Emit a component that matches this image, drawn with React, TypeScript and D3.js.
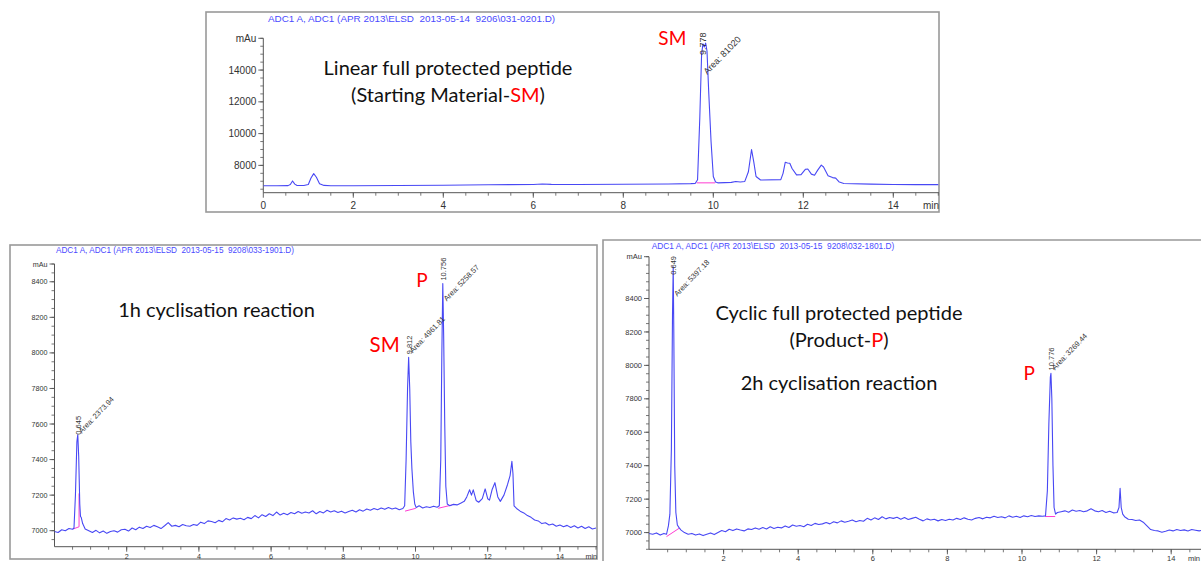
import React from "react";
import * as d3 from "d3";

type Pt = [number, number];

// ---------- DATA ----------
const titleSM = "ADC1 A, ADC1 (APR 2013\\ELSD  2013-05-14  9206\\031-0201.D)";
const title1h = "ADC1 A, ADC1 (APR 2013\\ELSD  2013-05-15  9208\\033-1901.D)";
const title2h = "ADC1 A, ADC1 (APR 2013\\ELSD  2013-05-15  9208\\032-1801.D)";

const smYTicks = [8000, 10000, 12000, 14000];
const smXTicks = [0, 2, 4, 6, 8, 10, 12, 14];
const h1YTicks = [7000, 7200, 7400, 7600, 7800, 8000, 8200, 8400];
const h1XTicks = [2, 4, 6, 8, 10, 12, 14];
const h2YTicks = [7000, 7200, 7400, 7600, 7800, 8000, 8200, 8400];
const h2XTicks = [2, 4, 6, 8, 10, 12, 14];

const smTrace: Pt[] = [
  [0, 6720], [0.3, 6720], [0.55, 6725], [0.6, 6800], [0.65, 7020], [0.7, 6820], [0.75, 6730],
  [0.9, 6730], [1.0, 6800], [1.06, 7200], [1.12, 7480], [1.18, 7250], [1.25, 6850], [1.35, 6740],
  [1.5, 6720], [2.0, 6720], [3.0, 6730], [4.0, 6750], [5.0, 6780], [6.0, 6800], [6.2, 6830],
  [6.4, 6805], [7.0, 6800], [8.0, 6810], [9.0, 6830], [9.5, 6850], [9.6, 6870], [9.65, 7100],
  [9.7, 11000], [9.74, 15000], [9.77, 15650], [9.8, 15450], [9.83, 15700], [9.86, 15200],
  [9.9, 12500], [9.95, 9500], [10.0, 7300], [10.05, 6950], [10.1, 6900], [10.4, 6930],
  [10.5, 6990], [10.6, 6950], [10.7, 6990], [10.78, 7600], [10.85, 9000], [10.9, 8200],
  [10.95, 7300], [11.05, 7080], [11.5, 7100], [11.55, 7500], [11.6, 8200], [11.65, 8150],
  [11.7, 8130], [11.75, 7800], [11.85, 7400], [11.95, 7420], [12.05, 7760], [12.1, 7770],
  [12.18, 7450], [12.25, 7380], [12.32, 7700], [12.4, 8020], [12.45, 7900], [12.55, 7350],
  [12.65, 7230], [12.72, 7200], [12.8, 6950], [12.9, 6860], [13.5, 6820], [14.0, 6800],
  [14.5, 6790], [15.0, 6790],
];

const h1Trace: Pt[] = [
  [0.0, 6995], [0.1, 6990], [0.2, 7005], [0.3, 7000], [0.4, 7012], [0.5, 7008], [0.54, 7015],
  [0.58, 7200], [0.62, 7500], [0.645, 7540], [0.67, 7420], [0.7, 7150], [0.72, 7080],
  [0.74, 7075], [0.78, 7040], [0.85, 7010], [0.95, 7000], [1.05, 6990], [1.15, 7002],
  [1.25, 6988], [1.35, 6998], [1.45, 6985], [1.55, 6995], [1.65, 7000], [1.75, 6992],
  [1.85, 7005], [1.95, 7008], [2.05, 6998], [2.15, 7015], [2.25, 7005], [2.35, 7020],
  [2.45, 7012], [2.55, 7025], [2.65, 7018], [2.75, 7030], [2.85, 7022], [2.95, 7012],
  [3.05, 7028], [3.15, 7045], [3.25, 7025], [3.35, 7030], [3.45, 7022], [3.55, 7035],
  [3.65, 7028], [3.75, 7025], [3.85, 7035], [3.95, 7030], [4.05, 7048], [4.15, 7040],
  [4.25, 7055], [4.35, 7052], [4.45, 7045], [4.55, 7058], [4.65, 7050], [4.75, 7068],
  [4.85, 7060], [4.95, 7072], [5.05, 7065], [5.15, 7070], [5.25, 7062], [5.35, 7075],
  [5.45, 7068], [5.55, 7085], [5.65, 7072], [5.75, 7090], [5.85, 7080], [5.95, 7095],
  [6.05, 7085], [6.15, 7105], [6.25, 7088], [6.35, 7098], [6.45, 7090], [6.55, 7102],
  [6.65, 7095], [6.75, 7108], [6.85, 7098], [6.95, 7105], [7.05, 7100], [7.15, 7112],
  [7.25, 7095], [7.35, 7108], [7.45, 7100], [7.55, 7115], [7.65, 7105], [7.75, 7112],
  [7.85, 7102], [7.95, 7110], [8.05, 7100], [8.15, 7108], [8.25, 7115], [8.35, 7105],
  [8.45, 7118], [8.55, 7110], [8.65, 7122], [8.75, 7115], [8.85, 7125], [8.95, 7118],
  [9.05, 7128], [9.15, 7120], [9.25, 7130], [9.35, 7122], [9.45, 7128], [9.55, 7118],
  [9.65, 7125], [9.7, 7140], [9.74, 7400], [9.78, 7800], [9.81, 7975], [9.84, 7800],
  [9.87, 7500], [9.9, 7350], [9.94, 7220], [9.98, 7150], [10.02, 7130], [10.1, 7140],
  [10.2, 7128], [10.3, 7135], [10.4, 7130], [10.5, 7138], [10.6, 7132], [10.66, 7140],
  [10.7, 7400], [10.73, 8000], [10.756, 8390], [10.78, 8100], [10.81, 7600], [10.84, 7250],
  [10.88, 7150], [10.95, 7140], [11.05, 7148], [11.15, 7145], [11.25, 7155], [11.35, 7165],
  [11.42, 7190], [11.5, 7230], [11.55, 7200], [11.6, 7230], [11.68, 7170], [11.75, 7160],
  [11.85, 7180], [11.93, 7235], [12.0, 7180], [12.05, 7172], [12.12, 7230], [12.2, 7270],
  [12.28, 7190], [12.35, 7165], [12.45, 7200], [12.55, 7260], [12.62, 7310], [12.67, 7390],
  [12.7, 7320], [12.73, 7140], [12.8, 7125], [12.9, 7110], [13.0, 7100], [13.1, 7085],
  [13.2, 7075], [13.3, 7060], [13.4, 7055], [13.5, 7040], [13.6, 7045], [13.7, 7032],
  [13.8, 7038], [13.9, 7025], [14.0, 7032], [14.1, 7022], [14.2, 7030], [14.3, 7018],
  [14.4, 7028], [14.5, 7015], [14.6, 7025], [14.7, 7012], [14.8, 7022], [14.9, 7010],
  [15.0, 7015],
];

const h2Trace: Pt[] = [
  [0.0, 6995], [0.1, 6990], [0.2, 6998], [0.3, 6985], [0.4, 6995], [0.47, 6990], [0.52, 7040],
  [0.56, 7110], [0.6, 7500], [0.63, 8300], [0.649, 8590], [0.665, 8200], [0.69, 7400],
  [0.72, 7120], [0.76, 7045], [0.81, 7028], [0.86, 7015], [0.95, 7000], [1.05, 6990],
  [1.15, 6995], [1.25, 6985], [1.35, 6992], [1.45, 6982], [1.55, 6990], [1.65, 6998],
  [1.75, 6988], [1.85, 7000], [1.95, 7012], [2.05, 7005], [2.15, 7020], [2.25, 7012],
  [2.35, 7022], [2.45, 7015], [2.55, 7010], [2.65, 7022], [2.75, 7018], [2.85, 7028],
  [2.95, 7020], [3.05, 7030], [3.15, 7022], [3.25, 7035], [3.35, 7025], [3.45, 7032],
  [3.55, 7028], [3.65, 7040], [3.75, 7030], [3.85, 7045], [3.95, 7038], [4.05, 7042],
  [4.15, 7035], [4.25, 7050], [4.35, 7042], [4.45, 7055], [4.55, 7048], [4.65, 7052],
  [4.75, 7060], [4.85, 7052], [4.95, 7065], [5.05, 7058], [5.15, 7070], [5.25, 7062],
  [5.35, 7068], [5.45, 7075], [5.55, 7065], [5.65, 7072], [5.75, 7068], [5.85, 7085],
  [5.95, 7075], [6.05, 7088], [6.15, 7078], [6.25, 7095], [6.35, 7082], [6.45, 7090],
  [6.55, 7085], [6.65, 7092], [6.75, 7080], [6.85, 7090], [6.95, 7078], [7.05, 7085],
  [7.15, 7092], [7.25, 7080], [7.35, 7070], [7.45, 7082], [7.55, 7075], [7.65, 7080],
  [7.75, 7070], [7.85, 7078], [7.95, 7072], [8.05, 7080], [8.15, 7075], [8.25, 7085],
  [8.35, 7078], [8.45, 7088], [8.55, 7080], [8.65, 7075], [8.75, 7085], [8.85, 7090],
  [8.95, 7082], [9.05, 7092], [9.15, 7088], [9.25, 7098], [9.35, 7090], [9.45, 7095],
  [9.55, 7088], [9.65, 7100], [9.75, 7092], [9.85, 7098], [9.95, 7090], [10.05, 7100],
  [10.15, 7095], [10.25, 7102], [10.35, 7096], [10.45, 7100], [10.55, 7098], [10.63, 7100],
  [10.68, 7250], [10.72, 7650], [10.76, 7930], [10.776, 7952], [10.8, 7800], [10.83, 7400],
  [10.86, 7150], [10.9, 7110], [10.95, 7120], [11.05, 7125], [11.15, 7130], [11.25, 7122],
  [11.35, 7135], [11.45, 7128], [11.55, 7132], [11.65, 7125], [11.75, 7130], [11.85, 7142],
  [11.95, 7130], [12.05, 7125], [12.15, 7132], [12.25, 7120], [12.35, 7128], [12.45, 7118],
  [12.55, 7120], [12.6, 7150], [12.63, 7265], [12.66, 7150], [12.7, 7110], [12.75, 7095],
  [12.85, 7080], [12.95, 7078], [13.05, 7072], [13.15, 7075], [13.25, 7062], [13.35, 7040],
  [13.45, 7018], [13.55, 7012], [13.65, 7010], [13.75, 7002], [13.85, 7008], [13.95, 7015],
  [14.05, 7010], [14.15, 7018], [14.25, 7012], [14.35, 7016], [14.45, 7010], [14.55, 7018],
  [14.65, 7014], [14.75, 7010], [14.85, 7015], [15.0, 7012],
];

type Peak = { t: number; rt: string; apex: number; area: string; tag: string };
const smPeaks: Peak[] = [{ t: 9.778, rt: "9.778", apex: 15700, area: "Area: 81020", tag: "SM" }];
const h1Peaks: Peak[] = [
  { t: 0.645, rt: "0.645", apex: 7540, area: "Area: 2373.94", tag: "" },
  { t: 9.812, rt: "9.812", apex: 7975, area: "Area: 4961.81", tag: "SM" },
  { t: 10.756, rt: "10.756", apex: 8390, area: "Area: 5258.57", tag: "P" },
];
const h2Peaks: Peak[] = [
  { t: 0.649, rt: "0.649", apex: 8590, area: "Area: 5397.18", tag: "" },
  { t: 10.776, rt: "10.776", apex: 7952, area: "Area: 3269.44", tag: "P" },
];

const smBaselines: Pt[][] = [[[9.63, 6900], [10.04, 6900]]];
const h1Baselines: Pt[][] = [
  [[0.52, 7010], [0.68, 7022], [0.68, 7210]],
  [[9.71, 7110], [10.01, 7126]],
  [[10.63, 7126], [11.0, 7144]],
];
const h2Baselines: Pt[][] = [
  [[0.47, 6976], [0.81, 7026]],
  [[10.62, 7096], [10.89, 7096]],
];

type Seg = { t: string; red?: boolean };
const smCaption: Seg[][] = [
  [{ t: "Linear full protected peptide" }],
  [{ t: "(Starting Material-" }, { t: "SM", red: true }, { t: ")" }],
];
const h1Caption: Seg[][] = [[{ t: "1h cyclisation reaction" }]];
const h2Caption: Seg[][] = [
  [{ t: "Cyclic full protected peptide" }],
  [{ t: "(Product-" }, { t: "P", red: true }, { t: ")" }],
  [],
  [{ t: "2h cyclisation reaction" }],
];

// ---------- LAYOUT ----------
type Layout = {
  frame: [number, number, number, number];
  openFrame?: boolean;
  xr: [number, number];
  yd: [number, number];
  yr: [number, number];
  axisRight: number;
  yMinor: number;
  tickFont: number;
  titleFont: number;
  titleX: number;
  titleY: number;
  xLabelY: number;
  annFont: number;
  rtDy: number[];
  areaDy: number[];
  tagDx: number[];
  tagDy: number[];
  tagFont: number[];
  captionX: number;
  captionY: number[];
  captionFont: number;
  minX: number;
  minAnchor: "start" | "end";
};

const L_SM: Layout = {
  frame: [206, 12, 733, 200], xr: [263.3, 938.3], yd: [6280, 16000], yr: [192.7, 38.3],
  axisRight: 939, yMinor: 500, tickFont: 10, titleFont: 9.9, titleX: 411.5, titleY: 22,
  xLabelY: 209, annFont: 9, rtDy: [12], areaDy: [32], tagDx: [-17], tagDy: [2], tagFont: [19],
  captionX: 448, captionY: [75, 101.7], captionFont: 20, minX: 939, minAnchor: "end",
};
const L_H1: Layout = {
  frame: [10, 245, 587, 314], xr: [54.5, 596], yd: [6910, 8500], yr: [546.7, 264],
  axisRight: 597, yMinor: 50, tickFont: 7.2, titleFont: 8.2, titleX: 175, titleY: 252.5,
  xLabelY: 558.5, annFont: 7.5, rtDy: [0, -3, -3], areaDy: [-1, -4, 18], tagDx: [0, -9, -15],
  tagDy: [0, -5, 3], tagFont: [0, 20.5, 19], captionX: 216.5, captionY: [316.5],
  captionFont: 20, minX: 597, minAnchor: "end",
};
const L_H2: Layout = {
  frame: [603, 240, 700, 400], openFrame: true, xr: [649, 1208.5], yd: [6900, 8650],
  yr: [549.3, 256.7], axisRight: 1215, yMinor: 50, tickFont: 7.5, titleFont: 8.35,
  titleX: 773, titleY: 248.5, xLabelY: 560.5, annFont: 7.5, rtDy: [8, -3], areaDy: [30, -3],
  tagDx: [0, -16], tagDy: [0, 6.7], tagFont: [0, 19], captionX: 839,
  captionY: [320, 346.7, 0, 390], captionFont: 20, minX: 1200, minAnchor: "end",
};

const TRACE = "#4848f4";
const PINK = "#ff3cd2";
const TXT = "#333";
const ARIAL = "'Liberation Sans', Arial, sans-serif";
const CAPFONT = "Lato, 'Open Sans', sans-serif";

function Panel({
  lay, title, trace, peaks, baselines, caption, yTicks, xTicks,
}: {
  lay: Layout; title: string; trace: Pt[]; peaks: Peak[]; baselines: Pt[][];
  caption: Seg[][]; yTicks: number[]; xTicks: number[];
}) {
  const x = d3.scaleLinear().domain([0, 15]).range(lay.xr);
  const y = d3.scaleLinear().domain(lay.yd).range(lay.yr);
  const line = d3.line<Pt>().x((d) => x(d[0])).y((d) => y(d[1]));
  const [fx, fy, fw, fh] = lay.frame;
  const x0 = lay.xr[0];
  const yBottom = lay.yr[0];
  const yTop = lay.yr[1];
  const yMinorTicks = d3.range(Math.ceil(lay.yd[0] / lay.yMinor) * lay.yMinor, lay.yd[1] + 1, lay.yMinor);
  const xMinorTicks = d3.range(0.5, 15.01, 0.5).filter((v) => x(v) <= lay.axisRight);
  const clipId = "clip" + Math.round(fx);

  return (
    <g>
      <defs>
        <clipPath id={clipId}>
          <rect x={x0} y={0} width={lay.axisRight - x0} height={yBottom} />
        </clipPath>
      </defs>
      {lay.openFrame ? (
        <path d={`M${fx},${fy + fh} V${fy} H${fx + fw}`} fill="none" stroke="#999" strokeWidth={1.6} />
      ) : (
        <rect x={fx} y={fy} width={fw} height={fh} fill="none" stroke="#999" strokeWidth={1.6} />
      )}
      <text x={lay.titleX} y={lay.titleY} textAnchor="middle" fontFamily={ARIAL} fontSize={lay.titleFont} fill="#4a4aff" style={{ whiteSpace: "pre" }} xmlSpace="preserve">
        {title}
      </text>
      {/* axes */}
      <line x1={x0} x2={x0} y1={yTop} y2={yBottom} stroke="#555" strokeWidth={1} />
      <line x1={x0} x2={lay.axisRight} y1={yBottom} y2={yBottom} stroke="#555" strokeWidth={1} />
      {yMinorTicks.map((v) => (
        <line key={"ym" + v} x1={x0 - 3} x2={x0} y1={y(v)} y2={y(v)} stroke="#555" strokeWidth={0.8} />
      ))}
      {yTicks.map((v) => (
        <g key={"yt" + v}>
          <line x1={x0 - 5} x2={x0} y1={y(v)} y2={y(v)} stroke="#555" strokeWidth={0.9} />
          <text x={x0 - 7} y={y(v)} dy="0.35em" textAnchor="end" fontFamily={ARIAL} fontSize={lay.tickFont} fill={TXT}>
            {v}
          </text>
        </g>
      ))}
      <line x1={x0 - 5} x2={x0} y1={yTop} y2={yTop} stroke="#555" strokeWidth={0.9} />
      <text x={x0 - 7} y={yTop} dy="0.35em" textAnchor="end" fontFamily={ARIAL} fontSize={lay.tickFont} fill={TXT}>
        mAu
      </text>
      {xMinorTicks.map((v) => (
        <line key={"xm" + v} x1={x(v)} x2={x(v)} y1={yBottom} y2={yBottom + 3} stroke="#555" strokeWidth={0.8} />
      ))}
      {xTicks.map((v) => (
        <g key={"xt" + v}>
          <line x1={x(v)} x2={x(v)} y1={yBottom} y2={yBottom + 5} stroke="#555" strokeWidth={0.9} />
          <text x={x(v)} y={lay.xLabelY} textAnchor="middle" fontFamily={ARIAL} fontSize={lay.tickFont} fill={TXT}>
            {v}
          </text>
        </g>
      ))}
      <text x={lay.minX} y={lay.xLabelY} textAnchor={lay.minAnchor} fontFamily={ARIAL} fontSize={lay.tickFont} fill={TXT}>
        min
      </text>
      {/* trace */}
      <g clipPath={`url(#${clipId})`}>
        {baselines.map((b, i) => (
          <path key={"b" + i} d={line(b) || ""} fill="none" stroke={PINK} strokeWidth={1} />
        ))}
        <path d={line(trace) || ""} fill="none" stroke={TRACE} strokeWidth={1.1} strokeLinejoin="round" />
      </g>
      {/* peak annotations */}
      {peaks.map((p, i) => {
        const px = x(p.t);
        const py = y(p.apex);
        return (
          <g key={"pk" + i} fontFamily={ARIAL} fontSize={lay.annFont} fill={TXT}>
            <text transform={`translate(${px + 3},${py + lay.rtDy[i]}) rotate(-90)`}>{p.rt}</text>
            <text transform={`translate(${px + 4},${py + lay.areaDy[i]}) rotate(-46)`}>{p.area}</text>
            {p.tag && (
              <text x={px + lay.tagDx[i]} y={py + lay.tagDy[i]} textAnchor="end" fontFamily={CAPFONT} fontSize={lay.tagFont[i]} fill="#ff0000">
                {p.tag}
              </text>
            )}
          </g>
        );
      })}
      {/* caption */}
      {caption.map((ln, i) =>
        ln.length ? (
          <text key={"c" + i} x={lay.captionX} y={lay.captionY[i]} textAnchor="middle" fontFamily={CAPFONT} fontSize={lay.captionFont} fill="#111">
            {ln.map((s, j) => (
              <tspan key={j} fill={s.red ? "#ff0000" : "#111"}>{s.t}</tspan>
            ))}
          </text>
        ) : null
      )}
    </g>
  );
}

export default function App() {
  return (
    <svg
      width={1201}
      height={561}
      style={{ position: "absolute", left: 0, top: 0, background: "#fff", overflow: "hidden" }}
    >
      <rect x={0} y={0} width={1201} height={561} fill="#fff" />
      <Panel lay={L_SM} title={titleSM} trace={smTrace} peaks={smPeaks} baselines={smBaselines} caption={smCaption} yTicks={smYTicks} xTicks={smXTicks} />
      <Panel lay={L_H1} title={title1h} trace={h1Trace} peaks={h1Peaks} baselines={h1Baselines} caption={h1Caption} yTicks={h1YTicks} xTicks={h1XTicks} />
      <Panel lay={L_H2} title={title2h} trace={h2Trace} peaks={h2Peaks} baselines={h2Baselines} caption={h2Caption} yTicks={h2YTicks} xTicks={h2XTicks} />
    </svg>
  );
}
